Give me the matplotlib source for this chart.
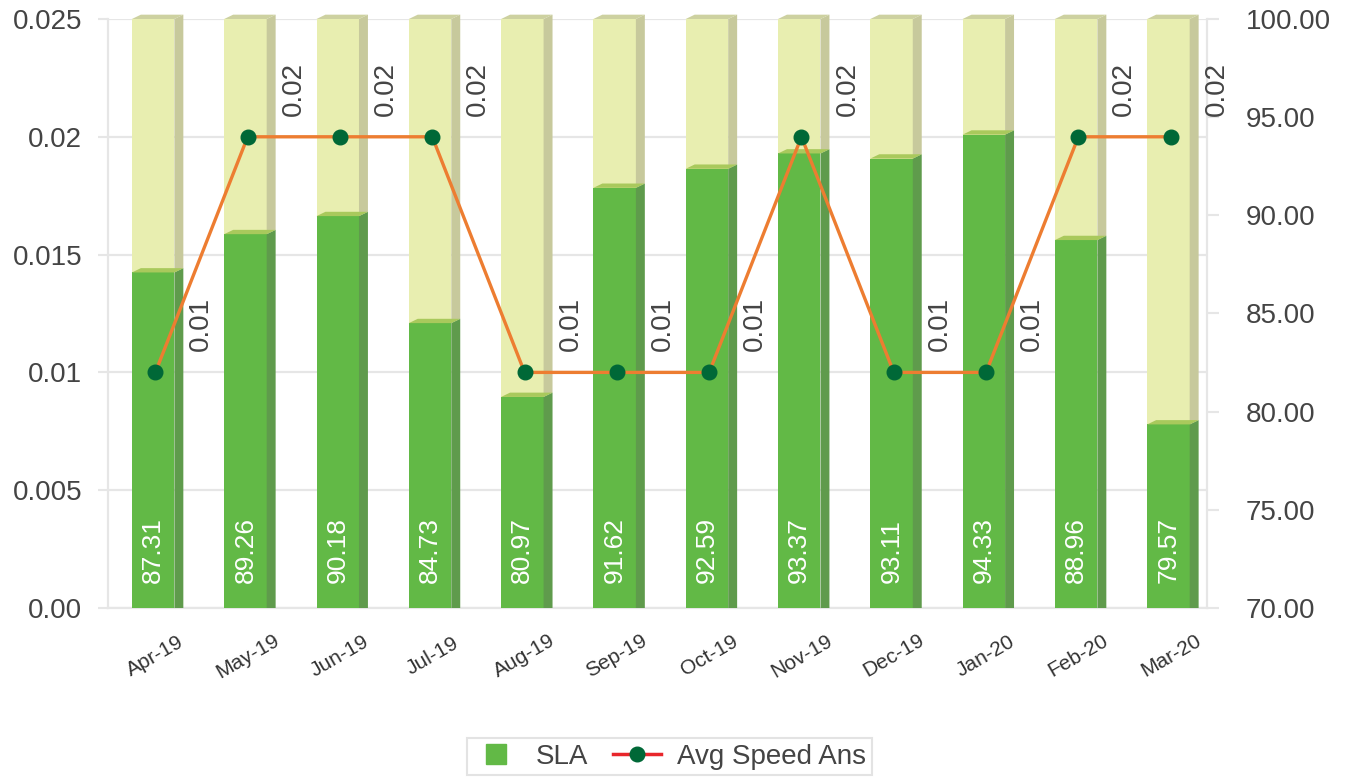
"""
SLA (bars, right axis) vs average speed of answer (line, left axis), Apr-19 .. Mar-20.
Bars are drawn as flat 3D columns: green for the value, pale remainder up to 100.
"""

import matplotlib.pyplot as plt
from matplotlib.patches import Polygon
from matplotlib.lines import Line2D

# ── data ──────────────────────────────────────────────────────────────────────
months = ["Apr-19", "May-19", "Jun-19", "Jul-19", "Aug-19", "Sep-19",
          "Oct-19", "Nov-19", "Dec-19", "Jan-20", "Feb-20", "Mar-20"]
sla = [87.31, 89.26, 90.18, 84.73, 80.97, 91.62,
       92.59, 93.37, 93.11, 94.33, 88.96, 79.57]
speed = [0.01, 0.02, 0.02, 0.02, 0.01, 0.01,
         0.01, 0.02, 0.01, 0.01, 0.02, 0.02]

left_ticks = [0, 0.005, 0.01, 0.015, 0.02, 0.025]
left_labels = ["0.00", "0.005", "0.01", "0.015", "0.02", "0.025"]
right_ticks = [70, 75, 80, 85, 90, 95, 100]

SLA_MIN, SLA_MAX = 70, 100

# ── 3D bar geometry (data units) ──────────────────────────────────────────────
X0, X1 = -0.254, 0.206    # front face, relative to category centre
DX, DY = 0.097, 0.22      # depth offset: x in categories, y in SLA units

GREEN, GREEN_SIDE, GREEN_TOP = "#62b946", "#5f9b4c", "#a9c95c"
PALE, PALE_SIDE, PALE_TOP = "#e8eeb0", "#c7c99c", "#cdd1a0"
LINE_C, DOT_C = "#ed7d31", "#006837"
GRID = "#e6e6e6"
TEXT = "#444444"

plt.rcParams["font.family"] = ["Liberation Sans", "DejaVu Sans"]

fig = plt.figure(figsize=(13.52, 7.78), dpi=100)
ax = fig.add_axes([0.0801, 0.2185, 0.8124, 0.7571])   # grid + left ticks
ax2 = ax.twinx()                                      # bars (right scale)
ax3 = ax.twinx()                                      # line (left scale)

xs = list(range(len(months)))

# ── bars ──────────────────────────────────────────────────────────────────────
for i, v in enumerate(sla):
    x0, x1 = i + X0, i + X1
    # pale remainder up to 100
    ax2.add_patch(Polygon([(x0, v - DY), (x1, v - DY), (x1, SLA_MAX), (x0, SLA_MAX)],
                          facecolor=PALE, lw=0, clip_on=False))
    ax2.add_patch(Polygon([(x1, v - DY), (x1 + DX, v), (x1 + DX, SLA_MAX + DY), (x1, SLA_MAX)],
                          facecolor=PALE_SIDE, lw=0, clip_on=False))
    ax2.add_patch(Polygon([(x0, SLA_MAX), (x0 + DX, SLA_MAX + DY),
                           (x1 + DX, SLA_MAX + DY), (x1, SLA_MAX)],
                          facecolor=PALE_TOP, lw=0, clip_on=False))
    # green value column
    ax2.add_patch(Polygon([(x0, SLA_MIN), (x1, SLA_MIN), (x1, v - DY), (x0, v - DY)],
                          facecolor=GREEN, lw=0))
    ax2.add_patch(Polygon([(x1, SLA_MIN), (x1 + DX, SLA_MIN), (x1 + DX, v), (x1, v - DY)],
                          facecolor=GREEN_SIDE, lw=0))
    ax2.add_patch(Polygon([(x0, v - DY), (x0 + DX, v), (x1 + DX, v), (x1, v - DY)],
                          facecolor=GREEN_TOP, lw=0))
    ax2.annotate(f"{v:.2f}", xy=(i + (X0 + X1) / 2, SLA_MIN), xytext=(0, 25),
                 textcoords="offset pixels", rotation=90, ha="center", va="bottom",
                 color="white", fontsize=19)

# ── line ──────────────────────────────────────────────────────────────────────
ax3.plot(xs, speed, color=LINE_C, lw=2.4, marker="o", ms=10.5,
         mfc=DOT_C, mec=DOT_C, zorder=3)
for i, s in enumerate(speed):
    ax3.annotate(f"{s:.2f}", xy=(i, s), xytext=(46, 48), textcoords="offset pixels",
                 rotation=90, ha="center", va="center", fontsize=20, color=TEXT)

# ── axes styling ──────────────────────────────────────────────────────────────
ax.set_xlim(-0.51, 11.39)
ax.set_ylim(0, 0.025)
ax3.set_ylim(0, 0.025)
ax2.set_ylim(SLA_MIN, SLA_MAX)

ax.set_yticks(left_ticks)
ax.set_yticklabels(left_labels)
ax.yaxis.grid(True, color=GRID, lw=1.6)
ax.set_axisbelow(True)
ax.tick_params(axis="y", length=7.2, width=1.5, color=GRID, pad=11.5,
               labelsize=20, labelcolor=TEXT)
ax.set_xticks(xs)
ax.set_xticklabels(months, rotation=30, ha="center", va="center")
ax.tick_params(axis="x", length=0, pad=34.5, labelsize=15, labelcolor="#333333")

ax2.set_yticks(right_ticks)
ax2.set_yticklabels([f"{t:.2f}" for t in right_ticks])
ax2.tick_params(axis="y", length=8.6, width=1.5, color=GRID, pad=19.4,
                labelsize=20, labelcolor=TEXT)

for a in (ax, ax2, ax3):
    for sp in a.spines.values():
        sp.set_visible(False)
ax.spines["left"].set_visible(True)
ax.spines["bottom"].set_visible(True)
ax2.spines["right"].set_visible(True)
for sp in (ax.spines["left"], ax.spines["bottom"], ax2.spines["right"]):
    sp.set_color(GRID)
    sp.set_linewidth(1.6)
ax3.set_yticks([])
ax3.patch.set_visible(False)
ax2.patch.set_visible(False)

# ── legend ────────────────────────────────────────────────────────────────────
handles = [
    Line2D([], [], ls="none", marker="s", ms=14, mfc=GREEN, mec=GREEN),
    Line2D([], [], color="#e8262b", lw=2.5, marker="o", ms=10.5, mfc=DOT_C, mec=DOT_C),
]
leg = fig.legend(handles, ["SLA", "Avg Speed Ans"], loc="center",
                 bbox_to_anchor=(0.495, 0.0276), ncol=2, frameon=True, fancybox=False,
                 fontsize=20, handlelength=1.7, columnspacing=0.9,
                 handletextpad=0.6, borderpad=0.2)
leg.get_frame().set_edgecolor("#dddddd")
leg.get_frame().set_linewidth(1.5)
for t in leg.get_texts():
    t.set_color(TEXT)

fig.savefig("out.png", dpi=100)
